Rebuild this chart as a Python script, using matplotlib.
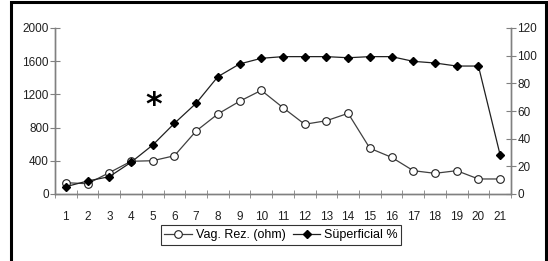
import numpy as np
import matplotlib.pyplot as plt
from matplotlib.patches import Rectangle

plt.rcParams['font.family'] = ['Liberation Sans', 'DejaVu Sans']

samples = list(range(1, 22))
vag_rez = [136, 124, 257, 394, 401, 461, 759, 964, 1117, 1249, 1040,
           840, 883, 972, 551, 442, 281, 249, 281, 181, 181]
superficial = [5.3, 9.4, 12.5, 22.9, 35.4, 51.1, 65.6, 84.8, 94.0, 98.1, 99.3,
               99.3, 99.3, 98.5, 99.3, 99.3, 95.9, 94.7, 92.5, 92.5, 28.2]

fig = plt.figure(figsize=(5.48, 2.61), dpi=100)
ax = fig.add_axes([55 / 548, 1 - 194 / 261, 456 / 548, 166 / 261])
ax2 = ax.twinx()

x = np.arange(len(samples))
grey = '#808080'
ax.plot(x, vag_rez, color='#404040', lw=0.9, marker='o', ms=5.5,
        mfc='white', mec='#202020', mew=0.8, label='Vag. Rez. (ohm)', zorder=3)
ax2.plot(x, superficial, color='#202020', lw=0.9, marker='D', ms=4,
         mfc='black', mec='black', label='Süperficial %', zorder=3)

ax.set_xlim(-0.5, len(samples) - 0.5)
ax.set_ylim(0, 2000)
ax2.set_ylim(0, 120)
ax.set_yticks(np.arange(0, 2001, 400))
ax2.set_yticks(np.arange(0, 121, 20))
ax.set_xticks(x)
ax.set_xticklabels([str(s) for s in samples])
ax.set_xticks(np.arange(-0.5, len(samples), 1), minor=True)

for a in (ax, ax2):
    a.spines['top'].set_visible(False)
    for s in a.spines.values():
        s.set_color(grey)
        s.set_linewidth(1.0)
    a.tick_params(labelsize=8.5, colors='#202020')
ax.tick_params(axis='x', which='major', length=0, pad=12)
ax.tick_params(axis='x', which='minor', direction='inout', length=6, color=grey)
ax.tick_params(axis='y', direction='inout', length=7, color=grey, pad=1)
ax2.tick_params(axis='y', direction='inout', length=7, color=grey, pad=1)

ax.text(4.06, 1070, '*', fontsize=23, ha='center', va='center', fontweight='bold',
        family='DejaVu Sans')

h1, l1 = ax.get_legend_handles_labels()
h2, l2 = ax2.get_legend_handles_labels()
leg = fig.legend(h1 + h2, l1 + l2, loc='center', bbox_to_anchor=(281 / 548, 1 - 235 / 261),
                 ncol=2, fontsize=9, frameon=True, fancybox=False, handlelength=2.2,
                 handletextpad=0.3, columnspacing=0.6, borderpad=0.3)
leg.get_frame().set_edgecolor('black')
leg.get_frame().set_linewidth(0.8)

fig.patches.append(Rectangle((11 / 548, -10 / 261), 535 / 548, 269 / 261, transform=fig.transFigure,
                             fill=False, edgecolor='black', linewidth=2.2))

fig.savefig('out.png', dpi=100)
